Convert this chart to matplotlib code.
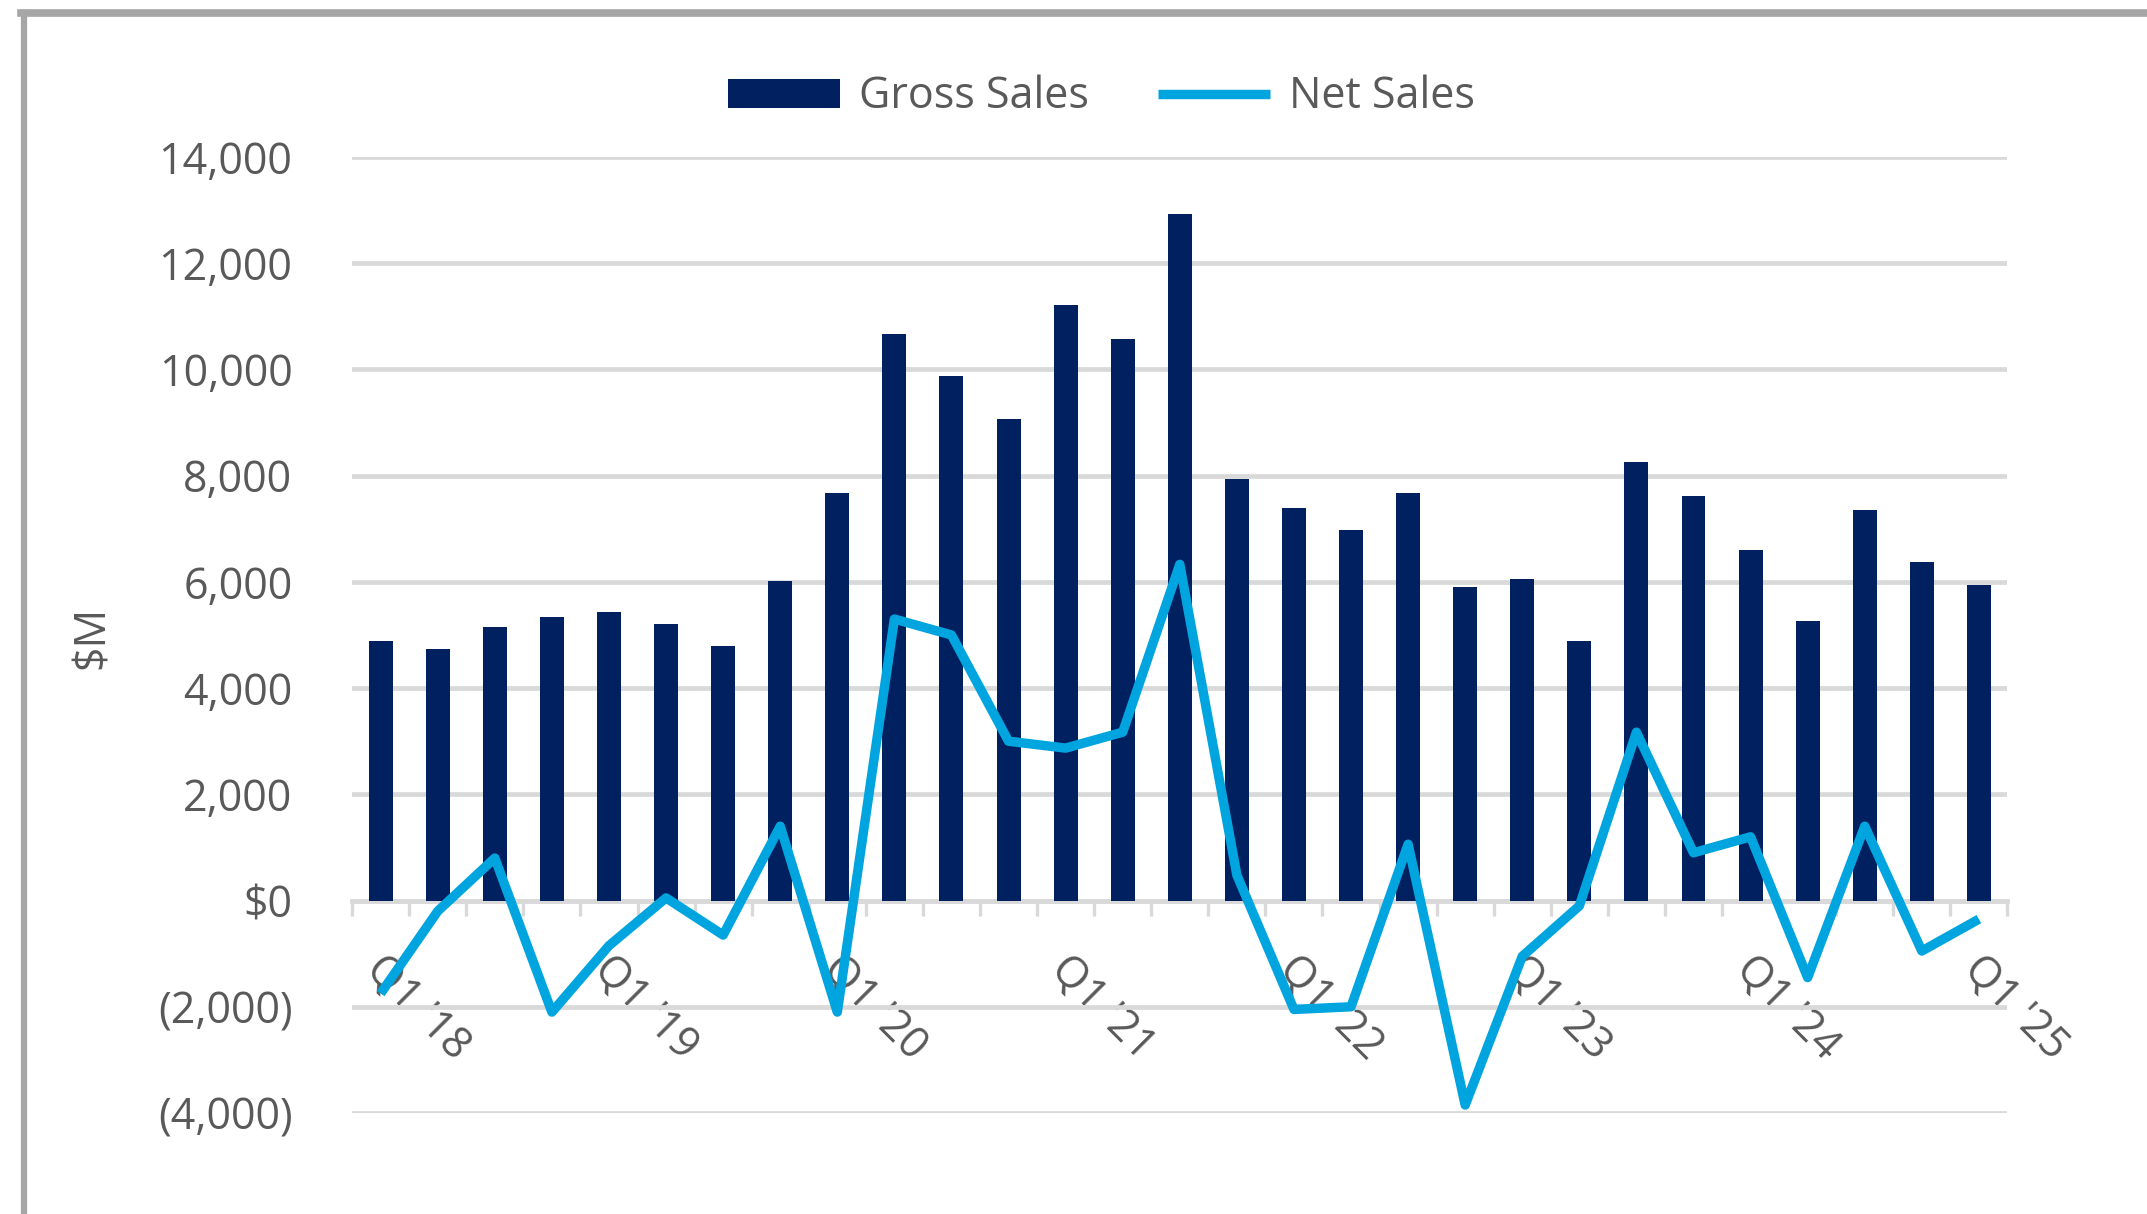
import matplotlib
matplotlib.use('Agg')
import matplotlib.pyplot as plt
from matplotlib.lines import Line2D
from matplotlib.ticker import FuncFormatter
import numpy as np

# Dane kwartalne ($M)
quarters = ["Q1 '18", "Q2 '18", "Q3 '18", "Q4 '18",
            "Q1 '19", "Q2 '19", "Q3 '19", "Q4 '19",
            "Q1 '20", "Q2 '20", "Q3 '20", "Q4 '20",
            "Q1 '21", "Q2 '21", "Q3 '21", "Q4 '21",
            "Q1 '22", "Q2 '22", "Q3 '22", "Q4 '22",
            "Q1 '23", "Q2 '23", "Q3 '23", "Q4 '23",
            "Q1 '24", "Q2 '24", "Q3 '24", "Q4 '24",
            "Q1 '25"]
gross_sales = [4890, 4730, 5150, 5330, 5430, 5210, 4790, 6010,
               7680, 10670, 9870, 9070, 11210, 10570, 12930, 7940,
               7400, 6970, 7680, 5910, 6060, 4890, 8260, 7620,
               6600, 5260, 7350, 6380, 5950]
net_sales = [-1750, -200, 800, -2100, -850, 50, -650, 1400,
             -2100, 5300, 5000, 3000, 2870, 3170, 6330, 480,
             -2050, -2000, 1060, -3850, -1050, -100, 3170, 900,
             1200, -1450, 1400, -950, -350]
y_ticks = [-4000, -2000, 0, 2000, 4000, 6000, 8000, 10000, 12000, 14000]

BAR_COLOR = '#002060'
LINE_COLOR = '#00A5DF'
GRID_COLOR = '#D9D9D9'
TEXT_COLOR = '#595959'
FS = 31

plt.rcParams['font.family'] = ['Open Sans', 'DejaVu Sans']

fig = plt.figure(figsize=(21.47, 12.14), dpi=100)
ax = fig.add_axes([0.164, 0.0832, 0.771, 0.7875])

x = np.arange(len(quarters))
bars = ax.bar(x, gross_sales, width=0.42, color=BAR_COLOR, label='Gross Sales', zorder=2)
line, = ax.plot(x, net_sales, color=LINE_COLOR, linewidth=6.8, label='Net Sales', zorder=3,
                solid_joinstyle='round', solid_capstyle='butt')

ax.set_xlim(-0.5, len(quarters) - 0.5)
ax.set_ylim(-4000, 14000)

# Siatka i oś zero
ax.set_yticks(y_ticks)
ax.yaxis.grid(True, color=GRID_COLOR, linewidth=3.4)
ax.set_axisbelow(True)
for side in ['top', 'right', 'left']:
    ax.spines[side].set_visible(False)
ax.spines['bottom'].set_position(('data', 0))
ax.spines['bottom'].set_color(GRID_COLOR)
ax.spines['bottom'].set_linewidth(3.4)
ax.spines['bottom'].set_zorder(1)


def fmt(v, pos):
    if v == 0:
        return '$0'
    if v < 0:
        return '({:,.0f})'.format(-v)
    return '{:,.0f}'.format(v)


ax.yaxis.set_major_formatter(FuncFormatter(fmt))
ax.tick_params(axis='y', length=0, pad=43, labelsize=FS, labelcolor=TEXT_COLOR)

# Etykiety osi x co 4 kwartały
label_idx = x[::4]
ax.set_xticks(label_idx + 0.12)
ax.set_xticklabels([quarters[i] for i in label_idx])
ax.set_xticks(np.arange(-0.5, len(quarters)), minor=True)
ax.tick_params(axis='x', which='major', length=0, pad=34, labelsize=FS, labelcolor=TEXT_COLOR)
ax.tick_params(axis='x', which='minor', length=11, width=2.4, color=GRID_COLOR, direction='out')
for lbl in ax.get_xticklabels():
    lbl.set_rotation(-45)
    lbl.set_rotation_mode('anchor')
    lbl.set_ha('left')
    lbl.set_va('top')

fig.text(0.043, 0.475, '$M', rotation=90, fontsize=FS, color=TEXT_COLOR,
         ha='center', va='center')

fig.legend([bars, line], ['Gross Sales', 'Net Sales'], loc='center',
           bbox_to_anchor=(0.513, 0.92), ncol=2, frameon=False,
           fontsize=FS, labelcolor=TEXT_COLOR, handlelength=2.6, handleheight=0.65,
           handletextpad=0.45, columnspacing=1.6)

# Szara ramka
fig.add_artist(Line2D([0.0097, 1.0], [0.9893, 0.9893], transform=fig.transFigure,
                      color='#A6A6A6', linewidth=5.5))
fig.add_artist(Line2D([0.0112, 0.0112], [0.0, 0.9893], transform=fig.transFigure,
                      color='#A6A6A6', linewidth=4.5))

fig.savefig('out.png', dpi=100)
plt.close(fig)
